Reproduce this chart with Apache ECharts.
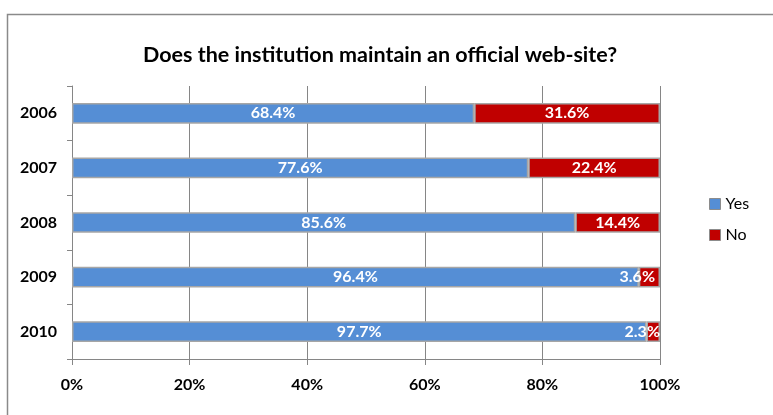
<!DOCTYPE html>
<html>
<head>
<meta charset="utf-8">
<script src="https://cdn.jsdelivr.net/npm/echarts@6/dist/echarts.min.js"></script>
<style>
  html, body { margin: 0; padding: 0; background: #ffffff; }
  #chart { width: 773px; height: 415px; }
</style>
</head>
<body>
<div id="chart"></div>
<script>
// Survey years (top to bottom)
var years = ['2006', '2007', '2008', '2009', '2010'];
// Share of institutions with an official web-site (%)
var yesValues = [68.4, 77.6, 85.6, 96.4, 97.7];
// Share without one (%)
var noValues = [31.6, 22.4, 14.4, 3.6, 2.3];
var xTicks = [0, 20, 40, 60, 80, 100];

var FONT = 'Lato, "Open Sans", sans-serif';
var chart = echarts.init(document.getElementById('chart'));

function barLabel() {
  return {
    show: true,
    position: 'inside',
    color: '#ffffff',
    fontWeight: 'bold',
    fontFamily: FONT,
    fontSize: 16,
    formatter: function (p) { return p.value.toFixed(1) + '%'; }
  };
}

// Segments too narrow for their label keep the label pinned to the right edge
function withLabelFit(values) {
  return values.map(function (v) {
    if (v >= 8) return v;
    return {
      value: v,
      label: { position: 'insideRight', distance: v > 3 ? 5 : 0 }
    };
  });
}

chart.setOption({
  animation: false,
  backgroundColor: '#ffffff',
  textStyle: { fontFamily: FONT },
  graphic: [{
    type: 'rect',
    shape: { x: 7.5, y: 14.5, width: 800, height: 430 },
    style: { fill: 'none', stroke: '#8a8a8a', lineWidth: 1.5 },
    silent: true
  }],
  title: {
    text: 'Does the institution maintain an official web-site?',
    left: 375,
    textAlign: 'center',
    top: 39,
    textStyle: { fontFamily: FONT, fontWeight: 'bold', fontSize: 21.5, color: '#000000' }
  },
  legend: {
    orient: 'vertical',
    left: 709,
    top: 196,
    padding: 0,
    itemWidth: 11,
    itemHeight: 11,
    itemGap: 15,
    icon: 'rect',
    textStyle: { fontFamily: FONT, fontSize: 16, color: '#000000' },
    data: [
      { name: 'Yes', itemStyle: { borderColor: '#8c8c8c', borderWidth: 1 } },
      { name: 'No', itemStyle: { borderColor: '#8c8c8c', borderWidth: 1 } }
    ]
  },
  grid: { left: 72, right: 113, top: 86, bottom: 56, containLabel: false },
  xAxis: {
    type: 'value',
    min: 0,
    max: 100,
    interval: 20,
    axisLine: { show: true, lineStyle: { color: '#868686', width: 1 } },
    axisTick: { show: true, length: 6, lineStyle: { color: '#868686' } },
    splitLine: { show: true, lineStyle: { color: '#868686', width: 1 } },
    axisLabel: {
      margin: 18,
      fontFamily: FONT,
      fontWeight: 'bold',
      fontSize: 16,
      color: '#000000',
      formatter: function (v) { return xTicks.indexOf(v) >= 0 ? v + '%' : ''; }
    }
  },
  yAxis: {
    type: 'category',
    data: years,
    inverse: true,
    axisLine: { show: true, lineStyle: { color: '#868686', width: 1 } },
    axisTick: { show: true, length: 5, lineStyle: { color: '#868686' } },
    splitLine: { show: false },
    axisLabel: {
      margin: 15,
      fontFamily: FONT,
      fontWeight: 'bold',
      fontSize: 16,
      color: '#000000'
    }
  },
  series: [
    {
      name: 'Yes',
      type: 'bar',
      stack: 'total',
      data: yesValues,
      barCategoryGap: '62%',
      itemStyle: { color: '#558ed5', borderColor: '#a6a6a6', borderWidth: 1.5 },
      label: barLabel()
    },
    {
      name: 'No',
      type: 'bar',
      stack: 'total',
      data: withLabelFit(noValues),
      barCategoryGap: '62%',
      itemStyle: { color: '#c00000', borderColor: '#a6a6a6', borderWidth: 1.5 },
      label: barLabel()
    }
  ]
});
</script>
</body>
</html>
